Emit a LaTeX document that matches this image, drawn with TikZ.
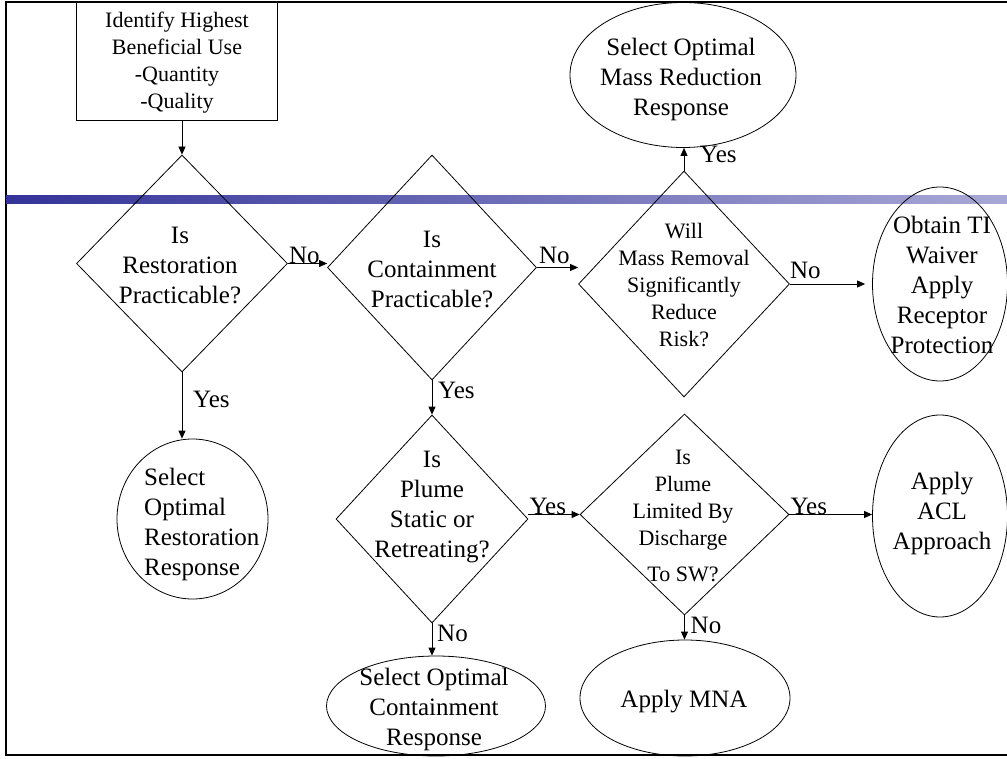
\documentclass[tikz,border=0pt]{standalone}
\usepackage{fontspec}
\setmainfont{Liberation Serif}
\usetikzlibrary{shapes.geometric,arrows.meta}

\definecolor{barL}{RGB}{51,51,153}
\definecolor{barR}{RGB}{172,172,216}

\tikzset{
  dia/.style={draw, shape=diamond, inner sep=0pt, line width=0.8pt},
  oval/.style={draw, ellipse, inner sep=0pt, line width=0.8pt},
  bigtxt/.style={font=\fontsize{25}{30}\selectfont, align=center, inner sep=0pt},
  smalltxt/.style={font=\fontsize{22}{27}\selectfont, align=center, inner sep=0pt},
  lbl/.style={font=\fontsize{25}{30}\selectfont, inner sep=0pt},
  arr/.style={-{Triangle[length=8pt,width=7pt]}, line width=0.8pt},
}

\begin{document}
\begin{tikzpicture}[x=1pt, y=-1pt]
\useasboundingbox (0,0) rectangle (1007,759);
\clip (0,0) rectangle (1007,759);

% page frame and title band
\draw[line width=2pt] (6,2) rectangle (1040,755);
\fill[left color=barL, right color=barR] (6,196) rectangle (1040,204);

% start box
\node[draw, line width=0.8pt, minimum width=201pt, minimum height=118pt, inner sep=0pt] (box) at (176.5,61) {};
\node[smalltxt] (boxt) at (177,63) {Identify Highest\\Beneficial Use\\-Quantity\\-Quality};

% decisions
\node[dia, minimum width=211pt, minimum height=217pt] (d1) at (182,263.5) {};
\node[bigtxt] (d1t) at (180,265) {Is\\Restoration\\Practicable?};

\node[dia, minimum width=209pt, minimum height=225pt] (d2) at (432,267.5) {};
\node[bigtxt] (d2t) at (432,269) {Is\\Containment\\Practicable?};

\node[dia, minimum width=211pt, minimum height=226pt] (d3) at (684,284) {};
\node[smalltxt] (d3t) at (684,285) {Will\\Mass Removal\\Significantly\\Reduce\\Risk?};

\node[dia, minimum width=192pt, minimum height=208pt] (d4) at (432,519) {};
\node[bigtxt] (d4t) at (432,507) {Is\\Plume\\Static or\\Retreating?};

\node[dia, minimum width=209pt, minimum height=201pt] (d5) at (684.5,514.5) {};
\node[smalltxt] (d5t) at (683,516) {Is\\Plume\\Limited By\\Discharge\\[9pt]To SW?};

% outcomes
\node[oval, minimum width=151pt, minimum height=160pt] (e1) at (192.5,519) {};
\node[bigtxt, align=left, anchor=west] (e1t) at (144,524) {Select\\Optimal\\Restoration\\Response};

\node[oval, minimum width=226pt, minimum height=145pt] (e2) at (683,75) {};
\node[bigtxt] (e2t) at (681,79) {Select Optimal\\Mass Reduction\\Response};

\node[oval, minimum width=135pt, minimum height=194pt] (e3) at (940,284) {};
\node[bigtxt] (e3t) at (942,285) {Obtain TI\\Waiver\\Apply\\Receptor\\Protection};

\node[oval, minimum width=135pt, minimum height=202pt] (e4) at (940,516) {};
\node[bigtxt] (e4t) at (942,513) {Apply\\ACL\\Approach};

\node[oval, minimum width=210pt, minimum height=116pt] (e5) at (685,698) {};
\node[bigtxt] (e5t) at (684,702) {Apply MNA};

\node[oval, minimum width=219pt, minimum height=100pt] (e6) at (436,706) {};
\node[bigtxt] (e6t) at (434,709) {Select Optimal\\Containment\\Response};

% connectors
\draw[arr] (d1.north |- box.south) -- (d1.north);
\draw[arr] (d1.south) -- (d1.south |- e1.north);
\draw[arr] (d1.east) -- (d1.east -| d2.west);
\draw[arr] (d2.east) -- (d2.east -| d3.west);
\draw[arr] (d3.east) -- ([xshift=-7pt]d3.east -| e3.west);
\draw[arr] (d3.north) -- (d3.north |- e2.south);
\draw[arr] (d2.south) -- (d4.north);
\draw[arr] (d5.west -| d4.east) -- (d5.west);
\draw[arr] (d5.east) -- (d5.east -| e4.west);
\draw[arr] (d4.south) -- (d4.south |- e6.north);
\draw[arr] (d5.south) -- (d5.south |- e5.north);

% branch labels
\node[lbl, anchor=base west] (l1) at ([xshift=1pt]d1.east) {No};
\node[lbl, anchor=base west] (l2) at ([xshift=2pt, yshift=4pt]d2.east) {No};
\node[lbl, anchor=base west] (l3) at ([yshift=5pt]d3.east) {No};
\node[lbl, anchor=base west] (l4) at ([xshift=11pt, yshift=-35pt]d1.south) {Yes};
\node[lbl, anchor=base west] (l5) at ([xshift=6pt, yshift=-18pt]d2.south) {Yes};
\node[lbl, anchor=base west] (l6) at ([xshift=16pt, yshift=8pt]d3.north) {Yes};
\node[lbl, anchor=base west] (l7) at ([xshift=1pt]d5.west -| d4.east) {Yes};
\node[lbl, anchor=base west] (l8) at ([xshift=1pt]d5.east) {Yes};
\node[lbl, anchor=base west] (l9) at ([xshift=5pt, yshift=-18pt]d4.south) {No};
\node[lbl, anchor=base west] (l10) at ([xshift=6pt, yshift=-18pt]d5.south) {No};
\end{tikzpicture}
\end{document}
